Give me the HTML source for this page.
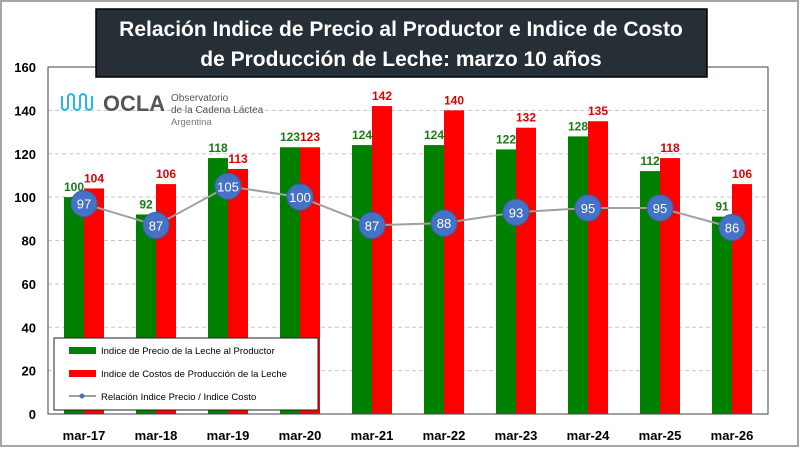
<!DOCTYPE html>
<html><head><meta charset="utf-8"><style>
body{margin:0;width:800px;height:448px;overflow:hidden;background:#fff;font-family:"Liberation Sans",sans-serif}
</style></head><body>
<svg id="chart" width="800" height="448" xmlns="http://www.w3.org/2000/svg">
<rect x="1" y="1" width="797" height="445" fill="#fff" stroke="#a6a6a6" stroke-width="2"/>
<g id="grid"></g>
<rect x="48" y="67" width="720" height="347" fill="none" stroke="#404040" stroke-width="1"/>
<g id="marks"></g>
<g>
<path d="M62 96 v12 q3 4 6 0 v-12 q3 -4 6 0 v12 q3 4 6 0 v-12 q3 -4 6 0 v12 q3 4 6 0 v-12" fill="none" stroke="#29b6e6" stroke-width="2"/>
<text x="103" y="111" font-size="22" font-weight="bold" fill="#555" textLength="62" lengthAdjust="spacingAndGlyphs">OCLA</text>
<text x="171" y="101" font-size="10" fill="#555">Observatorio</text>
<text x="171" y="113" font-size="10" fill="#555">de la Cadena Láctea</text>
<text x="171" y="125" font-size="9.5" fill="#777">Argentina</text>
</g>
<g>
<rect x="96" y="9" width="611" height="68" fill="#262e36" stroke="#000" stroke-width="1.5"/>
<text x="401" y="36" text-anchor="middle" font-size="21" font-weight="bold" fill="#fff">Relación Indice de Precio al Productor e Indice de Costo</text>
<text x="401" y="66" text-anchor="middle" font-size="21" font-weight="bold" fill="#fff">de Producción de Leche:  marzo 10 años</text>
</g>
<g>
<rect x="54" y="338" width="264" height="72" fill="#fff" stroke="#222" stroke-width="1"/>
<rect x="69" y="347" width="27" height="7" fill="#008000"/>
<text x="101" y="354" font-size="9.5" fill="#000">Indice de Precio de la Leche al Productor</text>
<rect x="69" y="370" width="27" height="7" fill="#ff0000"/>
<text x="101" y="377" font-size="9.5" fill="#000">Indice de Costos de Producción de la Leche</text>
<line x1="69" y1="396" x2="96" y2="396" stroke="#a0a0a0" stroke-width="2"/>
<circle cx="82" cy="396" r="2.5" fill="#4472c4"/>
<text x="101" y="400" font-size="9.5" fill="#000">Relación Indice Precio / Indice Costo</text>
</g>
</svg>
<script>
const categories=["mar-17","mar-18","mar-19","mar-20","mar-21","mar-22","mar-23","mar-24","mar-25","mar-26"];
const priceIndex=[100,92,118,123,124,124,122,128,112,91];
const costIndex=[104,106,113,123,142,140,132,135,118,106];
const ratio=[97,87,105,100,87,88,93,95,95,86];
const yTicks=[0,20,40,60,80,100,120,140,160];
const NS="http://www.w3.org/2000/svg";
const L=48,R=768,T=67,B=414,yMax=160;
const step=(R-L)/categories.length;
const y=v=>B-v*(B-T)/yMax;
const xc=i=>L+step*(i+0.5);
function mk(tag,attrs,parent,txt){const e=document.createElementNS(NS,tag);for(const k in attrs)e.setAttribute(k,attrs[k]);if(txt!==undefined)e.textContent=txt;parent.appendChild(e);return e;}
const grid=document.getElementById('grid'),marks=document.getElementById('marks');
yTicks.forEach(t=>{
 if(t>0&&t<yMax){const g=mk('line',{x1:L,x2:R,y1:y(t),y2:y(t),stroke:'#c8c8c8','stroke-dasharray':'4,3'},grid);
 
 }
 const tl=mk('text',{x:36,y:y(t)+5,'text-anchor':'end','font-size':13,'font-weight':'bold',fill:'#000'},grid,String(t));
 
 
});
const bw=20;
categories.forEach((c,i)=>{
 const x=xc(i);
 const g=mk('rect',{x:x-bw,y:y(priceIndex[i]),width:bw,height:B-y(priceIndex[i]),fill:'#008000'},marks);
 
 
 const r=mk('rect',{x:x,y:y(costIndex[i]),width:bw,height:B-y(costIndex[i]),fill:'#ff0000'},marks);
 
 
 const gl=mk('text',{x:x-bw/2,y:y(priceIndex[i])-6,'text-anchor':'middle','font-size':12,'font-weight':'bold',fill:'#1a7a1a'},marks,String(priceIndex[i]));
 
 
 const rl=mk('text',{x:x+bw/2,y:y(costIndex[i])-6,'text-anchor':'middle','font-size':12,'font-weight':'bold',fill:'#e00000'},marks,String(costIndex[i]));
 
 
 const xl=mk('text',{x:x,y:440,'text-anchor':'middle','font-size':13,'font-weight':'bold',fill:'#000'},marks,c);
 
 
});
const pts=ratio.map((v,i)=>xc(i)+','+y(v)).join(' ');
const pl=mk('polyline',{points:pts,fill:'none',stroke:'#a0a0a0','stroke-width':2},marks);


ratio.forEach((v,i)=>{
 const c=mk('circle',{cx:xc(i),cy:y(v),r:13,fill:'#4472c4',stroke:'#3a62a8','stroke-width':1},marks);
 
 
 const t=mk('text',{x:xc(i),y:y(v)+5,'text-anchor':'middle','font-size':13,fill:'#fff'},marks,String(v));
 
 
});
</script>
</body></html>
